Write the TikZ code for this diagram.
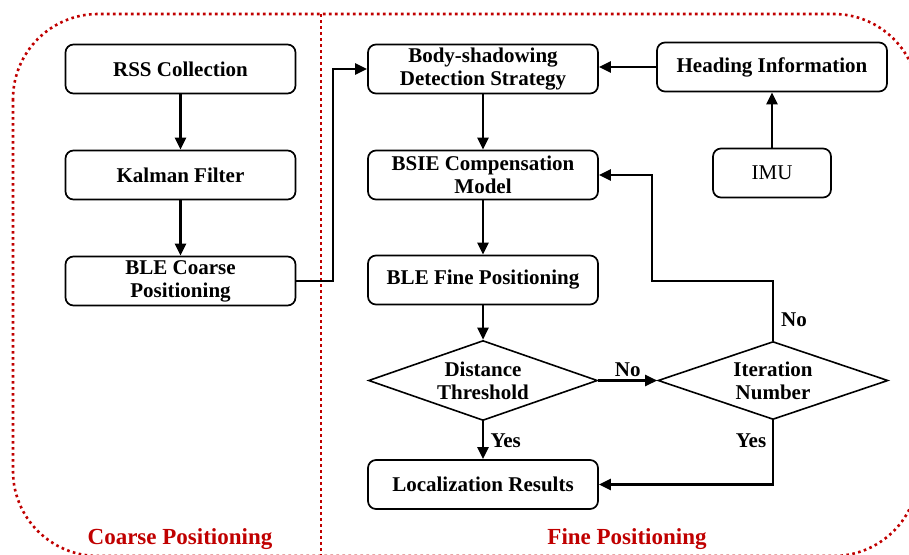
\documentclass[tikz,border=0pt]{standalone}
\usepackage{fontspec}
\setmainfont{Liberation Serif}
\usetikzlibrary{arrows.meta,shapes.geometric}
\definecolor{zonered}{RGB}{192,0,0}
\begin{document}
\begin{tikzpicture}[x=1pt,y=-1pt,
  font=\fontsize{21}{23}\selectfont\bfseries,
  box/.style={draw,line width=1.7pt,rounded corners=8pt,minimum width=230pt,minimum height=49pt,align=center,inner sep=2pt},
  decision/.style={draw,diamond,aspect=2.9,line width=1.6pt,minimum width=229pt,minimum height=80pt,inner sep=0pt,align=center},
  flow/.style={line width=2.4pt,-{Triangle[length=12pt,width=11pt]}},
  zone/.style={zonered,line width=2.6pt,dash pattern=on 2.6pt off 3.4pt},
  zonelabel/.style={text=zonered,font=\fontsize{23}{25}\selectfont\bfseries}]
\useasboundingbox (0,0) rectangle (909,554);

% dotted frame of the two stages
\begin{scope}
\clip (0,0) rectangle (909,554);
\draw[zone,rounded corners=85pt] (13,14) rectangle (918.5,556);
\draw[zone] (321,14) -- (321,556);
\end{scope}

% coarse stage
\node[box] (rss) at (180.5,69) {RSS Collection};
\node[box] (kal) at (180.5,175) {Kalman Filter};
\node[box] (blec) at (180.5,281) {BLE Coarse\\Positioning};

% fine stage
\node[box] (body) at (483,69) {Body-shadowing\\Detection Strategy};
\node[box] (head) at (772,67) {Heading Information};
\node[box] (bsie) at (483,175) {BSIE Compensation\\Model};
\node[box,minimum width=118pt,font=\fontsize{21}{23}\selectfont\mdseries] (imu) at (772,173) {IMU};
\node[box] (blef) at (483,280) {BLE Fine Positioning};
\node[decision] (dist) at (483,380.5) {Distance\\Threshold};
\node[decision,minimum width=230pt,minimum height=78pt] (iter) at (773,380.5) {Iteration\\Number};
\node[box] (loc) at (483,484.5) {Localization Results};

\coordinate (jog) at (333,281);
\coordinate (loopback) at (652,281);

% connectors
\draw[flow] (rss) -- (kal);
\draw[flow] (kal) -- (blec);
\draw[flow] (blec.east) -- (jog) |- (body.west);
\draw[flow] (head.west) -- (head.west -| body.east);
\draw[flow] (imu) -- (head);
\draw[flow] (body) -- (bsie);
\draw[flow] (bsie) -- (blef);
\draw[flow] (blef) -- (dist);
\draw[flow] (dist) -- node[right=3pt,pos=0.5] {Yes} (loc);
\draw[flow] (dist.east) -- node[above=-1pt,pos=0.5] {No} (iter.west);
\draw[flow] (iter.north) |- (loopback) |- (bsie.east);
\draw[flow] (iter.south) |- (loc.east);
\node (nolabel) at (794,320) {No};
\node (yeslabel) at (751,441) {Yes};

% stage titles
\node[zonelabel] (coarse) at (180,539) {Coarse Positioning};
\node[zonelabel] (fine) at (627,539) {Fine Positioning};
\end{tikzpicture}
\end{document}
